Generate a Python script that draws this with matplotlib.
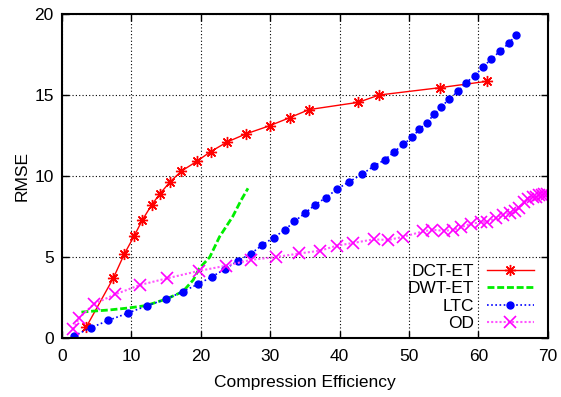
import matplotlib
matplotlib.use("Agg")
import matplotlib.pyplot as plt

plt.rcParams['font.family'] = ['Liberation Sans', 'DejaVu Sans']
plt.rcParams['font.size'] = 12.5

# DCT-ET
dct_x = [3.5, 7.4, 9.0, 10.4, 11.6, 12.9, 14.1, 15.6, 17.2, 19.4, 21.4, 23.8,
         26.5, 29.9, 32.8, 35.6, 42.7, 45.7, 54.4, 61.3]
dct_y = [0.68, 3.7, 5.2, 6.3, 7.3, 8.2, 8.9, 9.65, 10.3, 10.9, 11.5, 12.1,
         12.6, 13.1, 13.6, 14.1, 14.55, 15.0, 15.45, 15.85]

# DWT-ET
dwt_x = [2.8, 4.5, 6.8, 9.5, 12.1, 15.0, 17.4, 18.9, 19.8, 21.3, 22.7, 24.6, 25.8, 26.8]
dwt_y = [1.6, 1.66, 1.73, 1.85, 2.0, 2.4, 2.86, 3.58, 4.3, 5.0, 6.25, 7.5, 8.5, 9.24]

# LTC
ltc_x = [1.76, 4.2, 6.7, 9.5, 12.3, 15.0, 17.4, 19.6, 21.6, 23.5, 25.3, 27.2,
         28.8, 30.5, 32.1, 33.5, 35.0, 36.4, 38.0, 39.6, 41.3, 43.2, 44.9, 46.5,
         47.9, 49.2, 50.5, 51.5, 52.6, 53.6, 54.6, 55.8, 57.1, 58.2, 59.5, 60.6,
         61.8, 63.1, 64.4, 65.4]
ltc_y = [0.14, 0.64, 1.09, 1.54, 2.0, 2.4, 2.86, 3.33, 3.78, 4.26, 4.75, 5.2,
         5.72, 6.2, 6.67, 7.2, 7.7, 8.2, 8.66, 9.18, 9.63, 10.1, 10.6, 11.0,
         11.5, 11.97, 12.4, 12.9, 13.3, 13.8, 14.25, 14.75, 15.25, 15.76, 16.2, 16.7,
         17.2, 17.7, 18.2, 18.7]

# OD
od_x = [1.6, 2.5, 4.6, 7.7, 11.2, 15.1, 19.7, 23.6, 27.3, 30.9, 34.2, 37.2,
        39.6, 42.0, 44.9, 47.0, 49.2, 52.0, 53.3, 55.1, 56.4, 57.5, 58.9, 60.4,
        61.3, 62.6, 63.5, 64.5, 65.2, 65.9, 66.6, 67.1, 67.8, 68.3, 68.8, 69.2,
        69.5, 69.9]
od_y = [0.54, 1.25, 2.1, 2.7, 3.27, 3.68, 4.14, 4.46, 4.83, 5.0, 5.22, 5.39,
        5.7, 5.87, 6.09, 6.05, 6.25, 6.58, 6.68, 6.62, 6.67, 6.83, 7.06, 7.14,
        7.18, 7.4, 7.6, 7.73, 7.86, 8.0, 8.4, 8.6, 8.68, 8.72, 8.8, 8.82,
        8.88, 8.92]

fig = plt.figure(figsize=(5.61, 3.97), dpi=100)
ax = fig.add_axes([0.1105, 0.1486, 0.866, 0.8161])

ax.plot(dct_x, dct_y, color='#ff0000', lw=1.0, ls='-',
        marker=(8, 2, 0), ms=8, mew=1.0, label='DCT-ET')
ax.plot(dwt_x, dwt_y, color='#00ee00', lw=2.0, ls=(0, (2.5, 1)), label='DWT-ET')
ax.plot(ltc_x, ltc_y, color='#0000ff', lw=1.2, ls=(0, (1, 1.5)),
        marker='o', ms=5, label='LTC')
ax.plot(od_x, od_y, color='#ff55ff', lw=1.5, ls=(0, (1, 1)),
        marker='x', ms=8, mew=1.2, mec='#ff00ff', label='OD')

ax.set_xlim(0, 70)
ax.set_ylim(0, 20)
ax.set_xticks(range(0, 71, 10))
ax.set_yticks(range(0, 21, 5))
ax.grid(True, color='black', ls=(0, (1, 2)), lw=0.8)
ax.tick_params(direction='in', top=True, right=True, length=5, width=1.0, labelsize=12.5)
ax.tick_params(axis='x', pad=8)
ax.tick_params(axis='y', pad=6)
for s in ax.spines.values():
    s.set_linewidth(1.5)

ax.set_xlabel('Compression Efficiency', labelpad=8)
ax.set_ylabel('RMSE', labelpad=3)

ax.legend(loc='lower right', frameon=False, markerfirst=False, handlelength=2.7,
          handletextpad=0.75, labelspacing=0.13, borderaxespad=0.0,
          bbox_to_anchor=(0.985, 0.0))

fig.savefig('out.png', dpi=100)
